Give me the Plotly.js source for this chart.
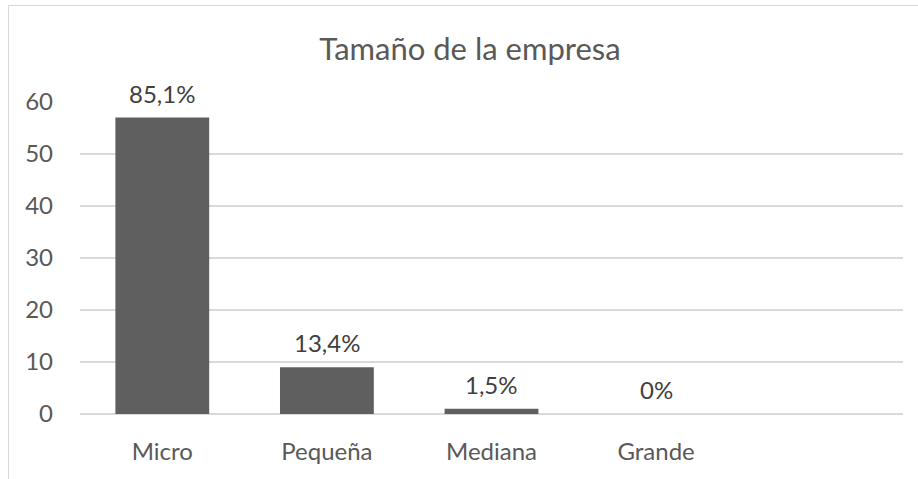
<!DOCTYPE html>
<html>
<head>
<meta charset="utf-8">
<script src="https://cdn.plot.ly/plotly-3.0.1.min.js"></script>
<style>
html,body{margin:0;padding:0;background:#fff;}
#frame{position:absolute;left:8px;top:5px;width:940px;height:500px;border:1px solid #d9d9d9;box-sizing:border-box;}
#chart{position:absolute;left:0;top:0;width:918px;height:479px;}
</style>
</head>
<body>
<div id="frame"></div>
<div id="chart"></div>
<script>
const categories = ["Micro", "Pequeña", "Mediana", "Grande"];
const values = [57, 9, 1, 0];
const labels = ["85,1%", "13,4%", "1,5%", "0%"];
const yTicks = [0, 10, 20, 30, 40, 50, 60];

const FONT = "Lato, 'Open Sans', sans-serif";

const trace = {
  type: "bar",
  x: categories,
  y: values,
  marker: {color: "#5f5f5f"},
  width: 0.57,
  hoverinfo: "none"
};

const annotations = categories.map((c, i) => ({
  x: c, y: values[i], xref: "x", yref: "y",
  text: labels[i], showarrow: false,
  xanchor: "center", yanchor: "bottom", yshift: 8,
  font: {family: FONT, size: 24, color: "#404040"}
}));

const layout = {
  width: 918, height: 479,
  paper_bgcolor: "rgba(0,0,0,0)",
  plot_bgcolor: "rgba(0,0,0,0)",
  margin: {l: 80, r: 15, t: 102, b: 65},
  title: {text: "Tamaño de la empresa", x: 0.512, xanchor: "center", y: 0.898, yanchor: "middle",
          font: {family: FONT, size: 31, color: "#595959"}},
  showlegend: false,
  annotations: annotations,
  xaxis: {type: "category", categoryorder: "array", categoryarray: categories,
          range: [-0.5, 4.5], showgrid: false, zeroline: false, showline: false,
          ticks: "", ticklabelstandoff: 21,
          tickfont: {family: FONT, size: 24, color: "#595959"},
          fixedrange: true},
  yaxis: {range: [0, 60], tickvals: yTicks, ticktext: yTicks.map(String),
          showgrid: true, gridcolor: "#d9d9d9", gridwidth: 1.5,
          zeroline: true, zerolinecolor: "#d9d9d9", zerolinewidth: 1.5,
          showline: false, ticks: "", ticklabelstandoff: 26,
          tickfont: {family: FONT, size: 24, color: "#595959"},
          fixedrange: true},
  font: {family: FONT}
};

Plotly.newPlot("chart", [trace], layout, {displayModeBar: false, staticPlot: true});
</script>
</body>
</html>
